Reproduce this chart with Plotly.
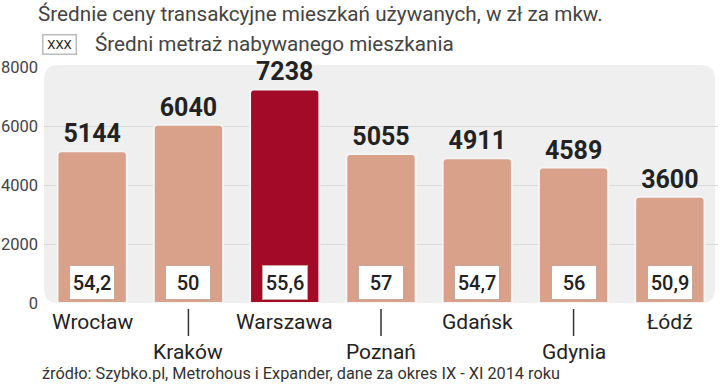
import plotly.graph_objects as go

cities = ["Wrocław", "Kraków", "Warszawa", "Poznań", "Gdańsk", "Gdynia", "Łódź"]
prices = [5144, 6040, 7238, 5055, 4911, 4589, 3600]
areas = ["54,2", "50", "55,6", "57", "54,7", "56", "50,9"]
highlight = "Warszawa"
y_ticks = [0, 2000, 4000, 6000, 8000]

title_text = "Średnie ceny transakcyjne mieszkań używanych, w zł za mkw."
legend_text = "Średni metraż nabywanego mieszkania"
source_text = "źródło: Szybko.pl, Metrohous i Expander, dane za okres IX - XI 2014 roku"

BAR = "#D9A08A"
HL = "#A30A28"
colors = [HL if c == highlight else BAR for c in cities]

BOLD = "Roboto, Open Sans, sans-serif"
REG = "Roboto, Open Sans, sans-serif"

W, H = 720, 388
ml, mr, mt, mb = 44, 2, 67, 85
pw, ph = W - ml - mr, H - mt - mb
px = lambda x: (x - ml) / pw
py = lambda y: (H - mb - y) / ph

fig = go.Figure()
fig.add_trace(go.Bar(
    x=cities, y=prices,
    marker=dict(color=colors, line=dict(color="#F4F4F4", width=2), cornerradius=4),
    width=0.72,
    text=[str(p) for p in prices], textposition="outside",
    textfont=dict(family=BOLD, size=25, color="#222222", weight="bold"),
    cliponaxis=False, hoverinfo="skip",
))

anns = []
shapes = []

# rounded background of plot area (paper coords)
rx, ry = 14 / pw, 14 / ph
top = 1 + 2 / ph
right = 1 - 3 / pw
path = (f"M {rx},0 L {right-rx},0 Q {right},0 {right},{ry} L {right},{top-ry} "
        f"Q {right},{top} {right-rx},{top} "
        f"L {rx},{top} Q 0,{top} 0,{top-ry} L 0,{ry} Q 0,0 {rx},0 Z")
shapes.append(dict(type="path", path=path, xref="paper", yref="paper",
                   fillcolor="#EFEFEF", line=dict(width=0), layer="below"))

# area boxes
for c, a in zip(cities, areas):
    anns.append(dict(
        x=c, y=0, xref="x", yref="y", yanchor="bottom", yshift=3,
        text=a, showarrow=False, width=40, height=29,
        bgcolor="white", bordercolor="#C9A79A", borderwidth=1, borderpad=2,
        font=dict(family=REG, size=20, color="#222222", weight=500),
    ))
# category labels alternating
for i, c in enumerate(cities):
    if i % 2 == 0:
        anns.append(dict(x=c, y=-0.022, xref="x", yref="paper", yanchor="top",
                         text=c, showarrow=False,
                         font=dict(family=REG, size=21, color="#222222")))
    else:
        anns.append(dict(x=c, y=-0.147, xref="x", yref="paper", yanchor="top",
                         text=c, showarrow=False,
                         font=dict(family=REG, size=21, color="#222222")))
        shapes.append(dict(type="line", x0=c, x1=c, xref="x", yref="paper",
                           y0=py(309), y1=py(336), line=dict(color="#333333", width=1.5)))

anns.append(dict(x=px(36), y=py(0), xref="paper", yref="paper", xanchor="left", yanchor="top",
                 text=title_text, showarrow=False,
                 font=dict(family=REG, size=20.7, color="#444444")))
anns.append(dict(x=px(42), y=py(34), xref="paper", yref="paper", xanchor="left", yanchor="top",
                 text="XXX", showarrow=False, width=30, height=16,
                 bgcolor="white", bordercolor="#BBBBBB", borderwidth=1.5, borderpad=1,
                 font=dict(family=REG, size=13, color="#222222")))
anns.append(dict(x=px(93), y=py(44), xref="paper", yref="paper", xanchor="left", yanchor="middle",
                 text=legend_text, showarrow=False,
                 font=dict(family=REG, size=20.7, color="#444444")))
anns.append(dict(x=px(40), y=py(374), xref="paper", yref="paper", xanchor="left", yanchor="middle",
                 text=source_text, showarrow=False,
                 font=dict(family=REG, size=16.3, color="#333333")))

fig.update_layout(
    width=W, height=H,
    margin=dict(l=ml, r=mr, t=mt, b=mb),
    paper_bgcolor="white", plot_bgcolor="rgba(0,0,0,0)",
    showlegend=False,
    annotations=anns, shapes=shapes,
    xaxis=dict(showticklabels=False, showgrid=False, zeroline=False, showline=False,
               range=[-0.5, 6.5], fixedrange=True),
    yaxis=dict(range=[0, 8000], tickvals=y_ticks, ticktext=[str(v) for v in y_ticks],
               showgrid=True, gridcolor="#D9D9D9", gridwidth=1, zeroline=False,
               showline=False, ticks="", ticklabelstandoff=5,
               tickfont=dict(family=REG, size=16.5, color="#444444"), fixedrange=True),
)

fig.write_html("out.html", config={"displayModeBar": False},
               post_script="document.body.style.margin='0';")
